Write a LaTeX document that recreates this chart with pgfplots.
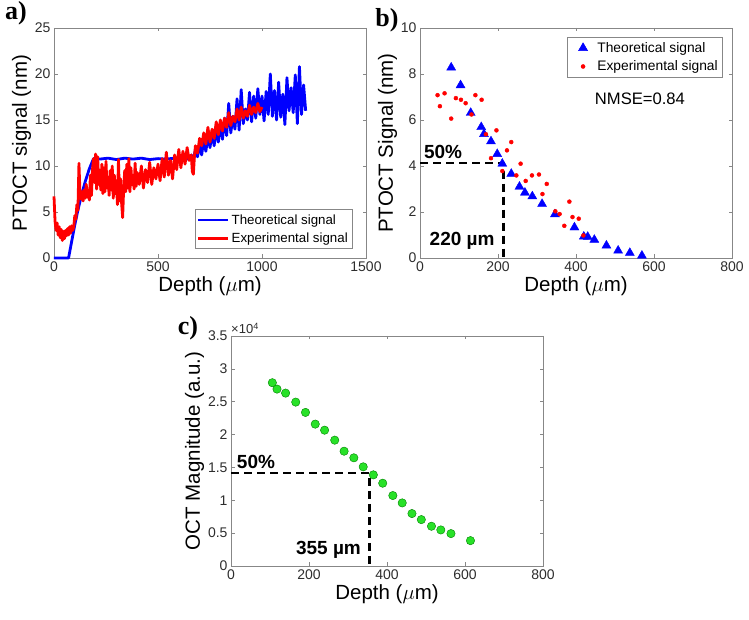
\documentclass[border=0pt]{standalone}
\usepackage{fontspec}
\setmainfont{Liberation Sans}
\newfontfamily\panelfont{Liberation Serif}
\usepackage{pgfplots}
\pgfplotsset{compat=1.18}

\definecolor{axgray}{RGB}{135,135,135}
\definecolor{tickgray}{RGB}{45,45,45}
\definecolor{mgreen}{RGB}{40,225,40}

\pgfplotsset{
  mat/.style={
    scale only axis, width=312pt, height=230pt,
    clip=false,
    axis line style={draw=axgray, line width=0.6pt},
    tick align=inside, major tick length=3.5pt,
    every tick/.style={draw=axgray, line width=0.6pt},
    tick label style={font=\fontsize{14}{16}\selectfont, text=tickgray},
    label style={font=\fontsize{20.5}{24}\selectfont},
    ylabel style={yshift=-3pt},
    xlabel style={yshift=2pt},
    /pgf/number format/assume math mode=true,
    /pgf/number format/1000 sep={},
    scaled ticks=false,
    xlabel={Depth ($\mu$m)},
  },
}
\tikzset{
  annot/.style={font=\fontsize{19}{22}\selectfont\bfseries},
  dashline/.style={black, line width=2.5pt, dash pattern=on 8pt off 5pt},
}

\begin{document}
\begin{tikzpicture}[x=1pt,y=1pt]
\useasboundingbox (0,0) rectangle (749,620);

% ---------- a) ----------
\begin{axis}[mat, at={(54pt,362pt)}, anchor=south west,
  xmin=0, xmax=1500, ymin=0, ymax=25,
  xtick={0,500,1000,1500}, ytick={0,5,10,15,20,25},
  ylabel={PTOCT signal (nm)},
  legend cell align=left,
  legend style={at={(1,0)}, anchor=south east, xshift=-14pt, yshift=9pt,
    draw=axgray, line width=0.5pt, font=\fontsize{13.3}{16}\selectfont,
    inner xsep=2pt, inner ysep=3pt, row sep=3pt},
  legend image code/.code={\draw[#1] (0pt,0pt) -- (30pt,0pt);},
]
\addplot[blue, line width=2.8pt, line join=round] coordinates {
(0,0) (70,0) (85,1.8) (100,3.6) (115,5.2) (133,6.9) (150,8.3) (170,9.7) (190,10.8)
(220,10.75) (260,10.85) (300,10.7) (340,10.85) (380,10.75) (420,10.85) (460,10.7)
(500,10.8) (540,10.75) (580,10.85) (620,10.7) (650,10.8)
(660,11.2) (670,10.6) (680,11.8) (690,11.0) (700,12.4) (710,11.2) (720,12.9)
(730,11.6) (740,13.2) (750,12.0) (760,13.6) (770,12.2) (780,14.1) (790,12.6)
(800,14.6) (810,12.9) (820,15.2) (830,13.3) (840,16.8) (850,13.6) (860,15.4)
(870,14.0) (880,17.3) (890,13.9) (900,18.3) (910,14.6) (920,16.2) (930,15.0)
(940,18.0) (950,14.8) (960,17.6) (970,15.2) (980,18.4) (990,15.6) (1000,17.6)
(1010,14.9) (1020,18.1) (1030,15.6) (1040,20.0) (1050,15.4) (1060,18.2)
(1070,15.0) (1080,19.1) (1090,15.3) (1100,17.8) (1110,14.5) (1120,19.6)
(1130,16.0) (1140,18.5) (1150,15.8) (1160,19.9) (1170,14.6) (1180,20.8)
(1190,15.6) (1200,18.8) (1210,16.0)
};
\addlegendentry{Theoretical signal}
\addplot[red, line width=2.8pt, line join=round] coordinates {
(0,6.7) (5,4.0) (10,3.0) (15,3.8) (20,2.5) (25,3.4) (30,2.2) (35,3.1) (40,1.9)
(45,2.9) (50,2.1) (55,3.0) (60,2.4) (65,3.2) (70,2.5) (75,3.4) (80,2.7) (85,3.5)
(90,3.0) (95,3.4) (100,4.6) (105,4.2) (110,5.8) (115,5.2) (120,10.3) (125,7.0)
(130,6.4) (135,7.2) (140,6.2) (145,7.4) (150,6.5) (155,8.0) (160,6.6) (165,7.2)
(170,6.3) (175,9.0) (180,6.8) (185,9.6) (190,10.8) (195,8.2) (200,11.3) (205,7.5)
(210,11.0) (215,8.0) (220,9.5) (225,7.4) (230,10.2) (235,7.0) (240,9.8) (245,7.2)
(250,10.5) (255,7.6) (260,8.8) (265,6.8) (270,9.5) (275,7.4) (280,10.0) (285,6.5)
(290,9.0) (295,7.0) (300,8.4) (305,5.8) (310,10.7) (315,6.2) (320,8.6) (325,6.0)
(330,4.4) (335,7.6) (340,9.5) (345,7.2) (350,10.2) (355,7.6) (360,10.8) (365,7.2)
(370,9.8) (375,8.0) (380,9.0) (385,7.5) (390,10.3) (395,7.8) (400,9.3) (410,8.0)
(420,10.0) (430,7.6) (440,9.6) (450,8.2) (460,10.4) (470,8.0) (480,9.8) (490,8.6)
(500,10.2) (510,8.4) (520,10.8) (530,8.8) (540,11.5) (550,9.0) (560,10.6)
(570,8.6) (580,11.2) (590,9.6) (600,11.8) (610,9.8) (620,11.6) (630,10.2)
(640,12.0) (650,10.6) (660,11.2) (665,9.4) (670,9.1) (675,11.0) (680,12.2)
(690,11.4) (700,13.0) (710,12.2) (720,13.6) (730,12.4) (740,14.2) (750,12.6)
(760,14.0) (770,13.0) (780,14.8) (790,13.4) (800,15.0) (810,13.8) (820,15.2)
(830,14.2) (840,15.8) (850,14.4) (860,15.4) (870,14.8) (880,16.2) (890,15.0)
(900,16.4) (910,15.2) (920,16.0) (930,15.4) (940,16.6) (950,15.6) (960,16.4)
(970,15.8) (980,16.8) (990,15.9) (1000,16.4)
};
\addlegendentry{Experimental signal}
\end{axis}

% ---------- b) ----------
\begin{axis}[mat, at={(420pt,362pt)}, anchor=south west,
  xmin=0, xmax=800, ymin=0, ymax=10,
  xtick={0,200,400,600,800}, ytick={0,2,4,6,8,10},
  ylabel={PTOCT Signal (nm)},
  legend cell align=left,
  legend style={at={(1,1)}, anchor=north east, xshift=-10pt, yshift=-9pt,
    draw=axgray, line width=0.5pt, font=\fontsize{13.8}{16}\selectfont,
    inner xsep=2pt, inner ysep=3pt, row sep=3pt},
  legend image code/.code={\path (0pt,0pt) (26pt,0pt);
    \draw[#1, only marks] plot coordinates {(14pt,0pt)};},
]
\addplot[only marks, mark=triangle*, mark size=5.2pt, blue] coordinates {
(80,8.28) (104,7.51) (130,6.31) (157,5.69) (164,5.39) (182,5.07) (198,4.52)
(211,4.10) (234,3.66) (255,3.10) (269,2.84) (288,2.68) (313,2.35) (346,1.90)
(396,1.33) (420,0.93) (430,0.92) (447,0.79) (478,0.54) (508,0.32) (538,0.22)
(569,0.10)
};
\addlegendentry{Theoretical signal}
\addplot[only marks, mark=*, mark size=2pt, red] coordinates {
(45,7.08) (51,6.60) (63,7.16) (80,6.06) (92,6.95) (105,6.88) (117,6.73)
(132,6.24) (142,7.08) (158,6.88) (169,5.38) (182,4.34) (196,5.55) (211,3.78)
(223,4.68) (234,5.04) (247,3.59) (258,4.10) (271,3.35) (287,3.59) (305,3.63)
(314,2.78) (325,3.22) (347,2.03) (358,1.91) (370,1.40) (383,2.45) (391,1.78)
(407,1.71) (419,0.98)
};
\addlegendentry{Experimental signal}
\draw[dashline] (axis cs:0,4.125) -- (axis cs:214,4.125) -- (axis cs:214,0);
\node[annot] at (axis cs:59,4.59) {50\%};
\node[annot] at (axis cs:108,0.74) {220 µm};
\node[font=\fontsize{16.6}{20}\selectfont] at (axis cs:564,6.94) {NMSE=0.84};
\end{axis}

% ---------- c) ----------
\begin{axis}[mat, at={(231pt,54pt)}, anchor=south west,
  xmin=0, xmax=800, ymin=0, ymax=35000,
  xtick={0,200,400,600,800}, ytick={0,5000,10000,15000,20000,25000,30000,35000},
  yticklabels={0,0.5,1,1.5,2,2.5,3,3.5},
  ylabel={OCT Magnitude (a.u.)},
]
\addplot[only marks, mark=*, mark size=4.2pt,
  mark options={fill=mgreen, draw=green!50!black, line width=0.4pt}] coordinates {
(106,27890) (118,26920) (140,26310) (166,24940) (191,23370) (216,21590)
(240,20670) (266,19150) (290,17470) (315,16460) (339,15090) (365,13870)
(389,12600) (415,10720) (439,9600) (464,7980) (488,7060) (514,6050)
(538,5490) (564,4930) (614,3860)
};
\draw[dashline] (axis cs:0,14120) -- (axis cs:355,14120) -- (axis cs:355,0);
\node[annot] at (axis cs:64,15830) {50\%};
\node[annot] at (axis cs:250,2430) {355 µm};
\node[anchor=south west, inner sep=0pt, text=tickgray,
  font=\fontsize{13}{15}\selectfont] at (rel axis cs:0,1) [yshift=2pt] {×10\textsuperscript{4}};
\end{axis}

\node[font=\panelfont\bfseries\fontsize{26}{28}\selectfont] at (16,607) {a)};
\node[font=\panelfont\bfseries\fontsize{26}{28}\selectfont] at (387,600) {b)};
\node[font=\panelfont\bfseries\fontsize{26}{28}\selectfont] at (188,292) {c)};
\end{tikzpicture}
\end{document}
